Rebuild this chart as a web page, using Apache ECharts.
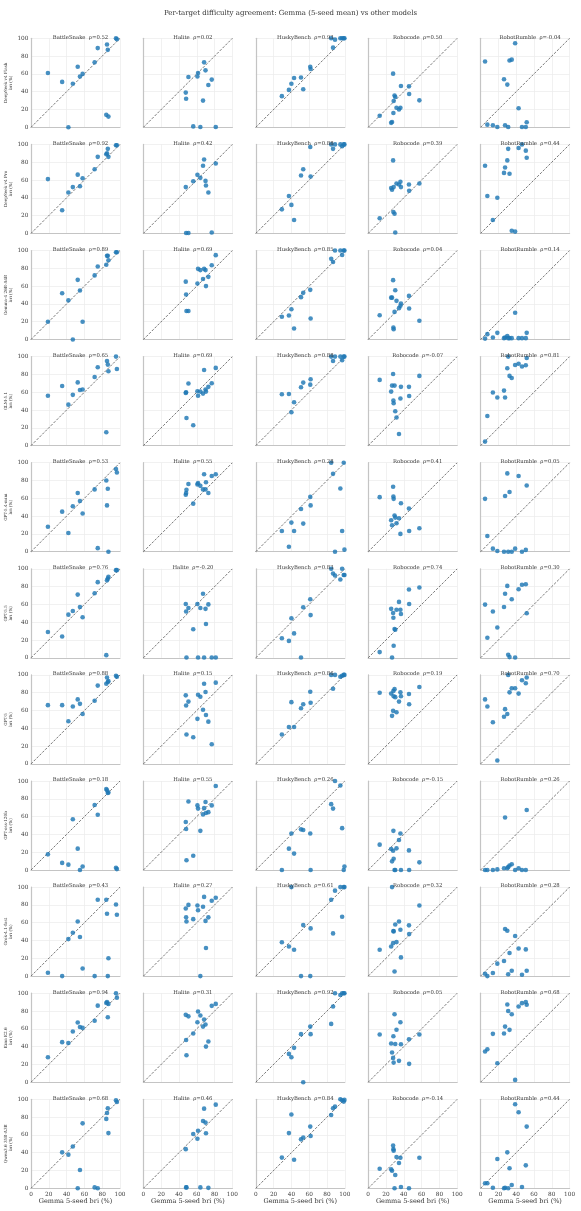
<!DOCTYPE html>
<html>
<head>
<meta charset="utf-8">
<script src="https://cdn.jsdelivr.net/npm/echarts@6/dist/echarts.min.js"></script>
<style>
  html, body { margin: 0; padding: 0; background: #fff; }
  #main { width: 581px; height: 1211px; }
</style>
</head>
<body>
<div id="main"></div>
<script>
// targets (columns) and models (rows)
const targets = ['BattleSnake', 'Halite', 'HuskyBench', 'Robocode', 'RobotRumble'];
const models = ['DeepSeek v4 Flash', 'DeepSeek v4 Pro', 'Gemma-4 26B-A4B', 'GLM-5.1', 'GPT-5.4-mini',
  'GPT-5.5', 'GPT-5', 'GPT-oss-120b', 'Grok-4.1-fast', 'Kimi K2.6', 'Qwen3.6 35B-A3B'];
const ticks = [0, 20, 40, 60, 80, 100];

// Gemma 5-seed bri (%) per task, one list per target (shared by all rows)
const xBattleSnake = [19, 35, 42, 47, 52.5, 55, 58, 71.5, 75, 84.6, 85.4, 86.3, 87, 95.5, 96.5];
const xHalite = [47.6, 48, 48.4, 50.6, 56, 60.7, 61.4, 64, 67, 68.2, 69.8, 70.3, 73, 76.8, 81.3];
const xHuskyBench = [29.3, 37.2, 40, 43, 50.8, 53.3, 61.2, 61.6, 84.7, 86.8, 89, 95, 97, 98.8, 99.6];
const xRobocode = [12.9, 25.8, 26.8, 28, 28.3, 28.6, 29.6, 30.4, 31.8, 34.6, 36.2, 36.8, 45.8, 46, 57.5];
const xRobotRumble = [5, 7.6, 13.8, 18.8, 26.3, 27.5, 30, 31, 32.5, 35, 38.8, 42.7, 46.5, 50.8, 51.8];

// other model bri (%), one row per model (same order as models)
const yBattleSnake = [
  [61, 51, 0, 49, 68, 57, 60, 73, 89, 14, 93, 87, 12, 100, 99],
  [61, 26, 46, 52, 66, 53, 62, 72, 86, 89, 90, 95, 86, 99, 99],
  [20, 52, 44, 0, 67, 55, 20, 72, 82, 84, 94, 94, 89, 98, 98],
  [56, 67, 46, 57, 71, 62.5, 63, 77, 88, 15, 95, 91, 83.5, 100, 86],
  [28, 45, 21, 51, 66, 57, 43, 70, 4, 80, 52, 70.7, 0, 93, 89],
  [29, 24, 48.5, 52.6, 71, 57, 45.5, 72.5, 85, 3, 87, 89, 91, 98.5, 98.5],
  [66, 66, 48, 64.5, 72.5, 67.5, 56, 71, 88, 90, 97, 92, 93, 99, 98],
  [17.6, 8, 6, 57, 24, 0, 4, 73, 62, 91, 89.5, 86.5, 87, 2.6, 1],
  [3.7, 0, 41.6, 48.7, 61.4, 44, 8.6, 0, 85.8, 85.8, 70, 0, 20, 80.5, 69],
  [28, 45, 44, 57, 67, 62, 61, 69, 86, 89, 90, 73, 88, 100, 95],
  [null, 40.4, 37.8, 47, 0, 20.6, 73, 1, 0, 78, 84.6, 90, 62, 99, 97]
];
const yHalite = [
  [39, 32, null, 56.6, 1, 57, 61, 0.4, 30, 73, 64, null, 47.6, 53.6, 0.4],
  [52, 0.5, null, 0.5, 58.6, 65.8, null, 62.4, 76, 83, 59, 53.8, 46, 1, 78.6],
  [65, 50.6, 32, 32, null, 63, 79.4, 78, 68, 79.4, 78, 60, 70.4, 83.5, 94.8],
  [59.2, 60, 31, 69.7, 22.8, 61, 56, 60.7, 58.4, 85, 63, 60.7, 66, 70, 87.3],
  [64, 66, 69.5, 76, 54, 75.6, 77, 74, 70, 87, 70, 78, 66, 85, 87],
  [60.5, 52, 0.4, 56, 32, 60.5, 0.4, 56, 72, 0.4, 55, 38, 60, 0.4, 0.4],
  [77, 65.7, 33, 70, 30, 50.6, 77.7, 75.5, 60.8, 90, 80.8, 55, 47.5, 22, 91.3],
  [54, 46, 11, 77, 16, 72.6, 69, 44, 62.5, 69.5, 76.4, 64, 65, 72.6, 94.4],
  [76, 66, 61.4, 80, 64, 79.4, 74, 0, 78, 89, 62, 31.5, 66, 84.6, 88],
  [75.7, 47.5, 30.3, 74, 54.7, 67.4, 79.4, 75, 62.5, 70.4, 64.8, 40, 45.7, 85.8, 88],
  [44, 1, 1, null, 61, 55.6, 64.6, 1, 75.7, 89.5, 73.8, 61.8, 0.5, null, 94]
];
const yHuskyBench = [
  [35, 42, 49, 55.4, 56, 42.7, 68, 65.5, 100, 89.5, 98.5, 100, 100, 100, 100],
  [27, 42, 32, 15, 65, 72, 97, 64, 100, 95, 100, 100, 98, 100, 100],
  [25.5, 27, 34, 12.4, 47.6, 52.4, 55.8, 23.6, 90.6, 87, 100, 100, 95, 100, 100],
  [57.7, 58, 37.5, 48.7, 65.5, 70.8, 68.5, 74.5, 100, 95, 100, 100, 96, 100, 100],
  [23.3, 5.6, 32.7, 23.3, 48, 31.6, 61.6, 52, 100, 87.5, 0, 71, 23.3, 100, 2.3],
  [22, 19, 44.4, 27.4, 0.4, 56.8, 65.8, 48, 100, 94.7, 92.5, 88, 100, 93, 93],
  [33, 41.5, 69.4, 41.5, 62.6, 67, 81, 68.7, 100, 84.5, 100, 98, 99, 100, 100],
  [0, 24, 41, 18.4, 45.7, 45, 41, 0, 74, 69, 100, 95, 47, 0, 4],
  [38, 33.3, 100, 29.6, 0, 57.3, 0, 53.6, 85.8, 48, 96, 100, 66.7, 100, 100],
  [null, 31.8, 28, 38.6, 54, 0, 62.5, 54, 65.5, 85, 100, 98, 100, 100, 100],
  [34.5, 62, 83, 32, 55, 57, 69.3, 58.8, 82.4, 90, 91.8, 100, 99, 97.4, 99.3]
];
const yRobocode = [
  [13, 5, 6, 60.3, 16, 29.6, 35.6, 34, 22, 20, 22, 46.4, 46, 37.5, 30.3],
  [17, 51, 49, 82, 24, 52, 22, 1, 56, 55, 58, 52, 55, 48, 56],
  [27.3, 47, 47, 66.7, 13.5, 11.6, 31, 55.4, 43.4, 35.2, 37.8, 40.4, 49, 34.8, 21],
  [73.8, 60.7, 67.4, 80.5, 50.6, 47.6, 67.4, 38.6, 31.5, 13, 53, 66, 66, 55.8, 78.3],
  [61.3, 35.3, 29.7, 73, 62, 59.4, 40.6, 38.3, 32, 37.6, 20, 54.5, 48.5, 23.3, 26.3],
  [6.4, 55, 0.4, 50.4, 45, 13.5, 32.3, 31.6, 54, 62.8, 54, 49.2, 76.7, 60.5, 79],
  [80, 79, 54, 59.6, 82, 76, 84, 75, 58, 70, 80.4, 76, 78.5, 67, 86.4],
  [28.5, 23.6, 9.7, 21.7, 44, 12.7, 0, 0, 24.3, 33.7, 41, 0, 22, 0, 8.6],
  [29.6, 33.3, 100, 37, 50.6, 50.2, 5.2, 58, 38.2, 61.4, 52, 21, 57, 47.2, 79.4],
  [53.6, 43.4, 33.3, 27.3, 51.7, 22, 76.4, 43, 59, 24, 67.4, 42.7, 48.3, 20.6, 53.6],
  [22, 21.3, 19.8, 48, 44, 42.3, 0, 15, 35.2, 28.5, 34.4, 1.5, 0, null, 34.4]
];
const yRobotRumble = [
  [74, 3, 2.3, 0.4, 54, 2.3, 48, 0.4, 75, 76, 94.4, 21.4, 0.4, 0.4, 5.6],
  [76, 42, 15, 40, 68, 74, 82, 95, 67, 3, 2, 96, 100, 93, 85],
  [1, 6, 2.2, 7.5, 1.5, 2.2, 4, 1.5, 1.5, 1.5, 30, 1.5, 1.5, 1.5, 7.5],
  [4.5, 33.3, 59.6, 54, 61.8, 54, 86.9, 100, 78.3, 76, 90.6, 92, 88.8, 90.3, 98.5],
  [59.4, 17.7, 3.4, 0.8, 0, 62.6, 88, 0, 67, 0, 3.4, 85, 0, 2, 74.4],
  [59.8, 22.5, 52, 34, 57, 72, 80.8, 3.4, 0.8, 65.8, 0.4, 77, 82, 82.7, 50],
  [72.5, 64.5, 46.8, 3.8, 53, 61.5, 56, 100, 80.4, 85, 85, 79, 94, 90.6, 97],
  [0, 0, 0, 0.7, 2, 59, 2, 3.4, 5, 6.4, 0, 2, 0, 0, 67.4],
  [2.6, 0, 3.4, 14, 17, 53, 51, 2, 26, 6, 45, 31, 1.5, 30, 6],
  [34.5, 37, 54.3, 21.3, 54.7, 62.5, 87.3, 80, 58.8, 76.4, 2.6, 85, 88.8, 90, 87],
  [5.6, 5.6, 0.7, 33, 0, 0.7, 40.4, 0, 22.5, 3.7, 94.4, 85.4, 1.5, 25.8, 69.3]
];

// Spearman rho shown in each panel title
const rhoBattleSnake = [0.52, 0.92, 0.89, 0.65, 0.53, 0.76, 0.88, 0.18, 0.43, 0.94, 0.68];
const rhoHalite = [0.02, 0.42, 0.69, 0.69, 0.55, -0.20, 0.15, 0.55, 0.27, 0.31, 0.46];
const rhoHuskyBench = [0.93, 0.88, 0.85, 0.88, 0.28, 0.83, 0.86, 0.26, 0.61, 0.92, 0.84];
const rhoRobocode = [0.50, 0.39, 0.04, -0.07, 0.41, 0.74, 0.19, -0.15, 0.32, 0.05, -0.14];
const rhoRobotRumble = [-0.04, 0.44, 0.14, 0.81, 0.05, 0.30, 0.70, 0.26, 0.28, 0.68, 0.44];

const xs = [xBattleSnake, xHalite, xHuskyBench, xRobocode, xRobotRumble];
const ys = [yBattleSnake, yHalite, yHuskyBench, yRobocode, yRobotRumble];
const rhos = [rhoBattleSnake, rhoHalite, rhoHuskyBench, rhoRobocode, rhoRobotRumble];

const FONT = '"DejaVu Serif", serif';
const LEFT = 31, TOP = 38.3, DX = 112.4, DY = 106.1, W = 89, H = 89;
const nRows = models.length;

const chart = echarts.init(document.getElementById('main'));

const grids = [], xAxes = [], yAxes = [], series = [];
const titles = [{
  text: 'Per-target difficulty agreement: Gemma (5-seed mean) vs other models',
  left: 'center', top: 5,
  textStyle: { fontFamily: FONT, fontSize: 7, fontWeight: 'normal', color: '#333' }
}];

for (let r = 0; r < nRows; r++) {
  for (let c = 0; c < targets.length; c++) {
    const idx = grids.length;
    const left = LEFT + c * DX;
    const top = TOP + r * DY;
    grids.push({ left: left, top: top, width: W, height: H });

    const rho = rhos[c][r];
    titles.push({
      text: targets[c] + '  \u03c1=' + (rho < 0 ? '-' : '') + Math.abs(rho).toFixed(2),
      left: left + W / 2, top: top - 8.5, textAlign: 'center',
      textStyle: { fontFamily: FONT, fontSize: 5.3, fontWeight: 'normal', color: '#333' }
    });

    xAxes.push({
      gridIndex: idx, type: 'value', min: ticks[0], max: ticks[ticks.length - 1], interval: 20,
      axisLine: { show: true, onZero: false, lineStyle: { color: '#c4c4c4', width: 1.2 } },
      axisTick: { show: false },
      axisLabel: { show: r === nRows - 1, fontFamily: FONT, fontSize: 5.8, color: '#444', margin: 3 },
      splitLine: { show: true, lineStyle: { color: '#ebebeb', width: 0.7 } },
      name: r === nRows - 1 ? 'Gemma 5-seed bri (%)' : '',
      nameLocation: 'middle', nameGap: 10,
      nameTextStyle: { fontFamily: FONT, fontSize: 6.5, color: '#333', verticalAlign: 'top' }
    });
    yAxes.push({
      gridIndex: idx, type: 'value', min: ticks[0], max: ticks[ticks.length - 1], interval: 20,
      axisLine: { show: true, onZero: false, lineStyle: { color: '#c4c4c4', width: 1.2 } },
      axisTick: { show: false },
      axisLabel: { show: c === 0, fontFamily: FONT, fontSize: 5.8, color: '#444', margin: 2.5 },
      splitLine: { show: true, lineStyle: { color: '#ebebeb', width: 0.7 } },
      name: c === 0 ? models[r] + '\nbri (%)' : '',
      nameLocation: 'middle', nameRotate: 90, nameGap: 15,
      nameTextStyle: { fontFamily: FONT, fontSize: 4.2, color: '#333', lineHeight: 5 }
    });

    series.push({
      type: 'line', xAxisIndex: idx, yAxisIndex: idx,
      data: [[ticks[0], ticks[0]], [ticks[ticks.length - 1], ticks[ticks.length - 1]]],
      symbol: 'none', silent: true, z: 1,
      lineStyle: { color: '#555', width: 0.8, type: [2.5, 1.5] }
    });
    const pts = xs[c].map((x, i) => [x, ys[c][r][i]]).filter(p => p[1] !== null);
    series.push({
      type: 'scatter', xAxisIndex: idx, yAxisIndex: idx,
      data: pts, symbolSize: 4.6, clip: false, z: 3,
      itemStyle: { color: '#1f77b4', opacity: 0.82 }
    });
  }
}

chart.setOption({
  backgroundColor: '#fff',
  animation: false,
  title: titles,
  grid: grids,
  xAxis: xAxes,
  yAxis: yAxes,
  series: series
});
</script>
</body>
</html>
